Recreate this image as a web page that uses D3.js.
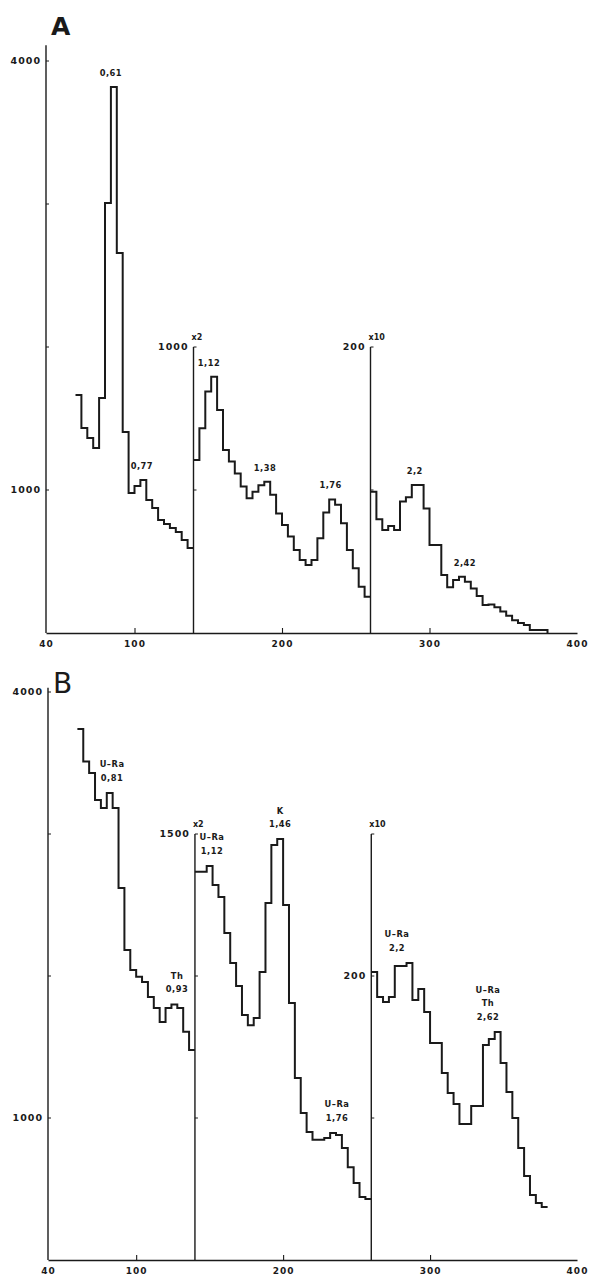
<!DOCTYPE html>
<html><head><meta charset="utf-8">
<script src="https://cdn.jsdelivr.net/npm/d3@7"></script>
<style>body{margin:0;background:#fff} svg{display:block}</style>
</head><body>
<svg id="chart" width="593" height="1276"></svg>
<script>
// ---------------- DATA ----------------
const xTickValues = [40, 100, 200, 300, 400];
const binWidth = 4;                 // channels per histogram step
const segmentStarts = [60, 140, 260];
const segmentGains = [1, 2, 10];     // x1, x2, x10 amplification
const gainLabels = ["", "x2", "x10"];

// Panel A counts (each segment in its own axis units)
const countsA1 = [1664, 1434, 1364, 1294, 1643, 3007, 3818, 2657, 1406, 979,
                  1028, 1070, 930, 874, 790, 762, 734, 706, 650, 594];
const countsA2 = [605, 716, 844, 896, 780, 640, 600, 558, 512, 471,
                  494, 517, 529, 483, 418, 378, 337, 290, 255, 238,
                  255, 331, 421, 467, 448, 384, 290, 226, 162, 127];
const countsA3 = [98.8, 79.5, 72, 74.8, 72, 92, 95, 103.5, 103.5, 87,
                  61.5, 61.5, 40.6, 32, 37, 39.4, 35.9, 31.2, 25.9, 19.5,
                  20, 18, 15, 12, 9, 7, 5.6, 2.1, 2.1, 2.1];

// Panel B counts
const countsB1 = [3740, 3510, 3430, 3239, 3183, 3289, 3183, 2620, 2183, 2042,
                  1995, 1958, 1852, 1775, 1676, 1775, 1800, 1775, 1608, 1479];
const countsB2 = [1367, 1367, 1387, 1320, 1278, 1151, 1046, 965, 863, 827,
                  852, 1014, 1257, 1461, 1482, 1250, 905, 641, 518, 451,
                  423, 423, 430, 447, 440, 394, 327, 271, 222, 215];
const countsB3 = [202.8, 185.2, 181.7, 185.2, 207, 207, 209.2, 183.1, 190.8, 174.6,
                  152.8, 152.8, 131.7, 117.6, 109.9, 95.8, 95.8, 108.5, 108.5, 151.4,
                  155.6, 160.6, 138.7, 118.3, 100, 78.9, 59.2, 45.8, 40.1, 37.3];

// vertical axes: tick values, labelled values, top value (own units)
const axisTicksA = [[1000, 2000, 3000, 4000], [500, 1000], [100, 200]];
const axisLabelsA = [[1000, 4000], [1000], [200]];
const axisTopA = [4110, 1000, 200];
const axisTicksB = [[1000, 2000, 3000, 4000], [500, 1000, 1500], [100, 200, 300]];
const axisLabelsB = [[1000, 4000], [1500], [200]];
const axisTopB = [4030, 1500, 300];

// peak annotations: channel and text lines
const peaksA = [
  {ch: 84, lines: ["0,61"]},
  {ch: 105, lines: ["0,77"]},
  {ch: 150.5, lines: ["1,12"]},
  {ch: 188.5, lines: ["1,38"]},
  {ch: 233, lines: ["1,76"]},
  {ch: 290, lines: ["2,2"]},
  {ch: 324, lines: ["2,42"]}
];
const peaksB = [
  {ch: 83.6, lines: ["U–Ra", "0,81"]},
  {ch: 127.8, lines: ["Th", "0,93"]},
  {ch: 151.6, lines: ["U–Ra", "1,12"]},
  {ch: 198, lines: ["K", "1,46"]},
  {ch: 236.7, lines: ["U–Ra", "1,76"]},
  {ch: 277.5, lines: ["U–Ra", "2,2"]},
  {ch: 339.4, lines: ["U–Ra", "Th", "2,62"]}
];

// ---------------- LAYOUT ----------------
const INK = "#1a1a1a";
const FONT = "'DejaVu Sans', sans-serif";
const panels = [
  {title: "A", titleX: 51, titleY: 35, titleSize: 25, titleWeight: "bold",
   baseline: 633, y4000: 61, xRange: [46, 577],
   counts: [countsA1, countsA2, countsA3],
   ticks: axisTicksA, labels: axisLabelsA, tops: axisTopA,
   peaks: peaksA, peakGap: 14, dropEnd: true},
  {title: "B", titleX: 53, titleY: 693, titleSize: 28, titleWeight: "normal",
   baseline: 1260, y4000: 692, xRange: [48, 577],
   counts: [countsB1, countsB2, countsB3],
   ticks: axisTicksB, labels: axisLabelsB, tops: axisTopB,
   peaks: peaksB, peakGap: 15, dropEnd: false}
];

const svg = d3.select("#chart");
svg.append("rect").attr("width", 593).attr("height", 1276).attr("fill", "#fff");

panels.forEach(p => {
  const g = svg.append("g");
  const x = d3.scaleLinear().domain([40, 400]).range(p.xRange);
  const yFor = gain => d3.scaleLinear().domain([0, 4000 / gain]).range([p.baseline, p.y4000]);

  // title
  g.append("text").attr("x", p.titleX).attr("y", p.titleY)
    .attr("font-family", FONT).attr("font-size", p.titleSize)
    .attr("font-weight", p.titleWeight).attr("fill", INK).text(p.title);

  // bottom axis
  const xAxis = d3.axisBottom(x).tickValues(xTickValues).tickSize(-5)
    .tickSizeOuter(0).tickPadding(8).tickFormat(d3.format("d"));
  const ax = g.append("g").attr("transform", `translate(0,${p.baseline})`).call(xAxis);
  ax.select(".domain").attr("stroke", INK).attr("stroke-width", 1.4);
  ax.selectAll(".tick line").attr("stroke", INK).attr("stroke-width", 1.1)
    .filter(d => d === 40 || d === 400).remove();
  ax.selectAll(".tick text").attr("font-family", FONT).attr("font-size", 9)
    .attr("font-weight", "bold").attr("letter-spacing", 1).attr("fill", INK);

  // vertical axes, one per segment
  segmentStarts.forEach((s, k) => {
    const gain = segmentGains[k];
    const y = yFor(gain);
    const xa = x(k === 0 ? 40 : s);
    g.append("line").attr("x1", xa).attr("x2", xa)
      .attr("y1", p.baseline).attr("y2", y(p.tops[k]))
      .attr("stroke", INK).attr("stroke-width", 1.4);
    p.ticks[k].forEach(t => {
      g.append("line").attr("x1", xa).attr("x2", xa + 3)
        .attr("y1", y(t)).attr("y2", y(t)).attr("stroke", INK).attr("stroke-width", 1);
    });
    p.labels[k].forEach(t => {
      g.append("text").attr("x", xa - 5).attr("y", y(t))
        .attr("dy", "0.35em").attr("text-anchor", "end")
        .attr("font-family", FONT).attr("font-size", 9.5).attr("font-weight", "bold")
        .attr("letter-spacing", 1).attr("fill", INK).text(d3.format("d")(t));
    });
    if (gainLabels[k]) {
      g.append("text").attr("x", xa - 2).attr("y", y(p.tops[k]) - 7)
        .attr("font-family", FONT).attr("font-size", 8).attr("font-weight", "bold")
        .attr("fill", INK).text(gainLabels[k]);
    }
  });

  // step histogram segments
  const segPoints = [];
  p.counts.forEach((vals, k) => {
    const s = segmentStarts[k];
    const y = yFor(segmentGains[k]);
    const pts = vals.map((v, i) => [s + i * binWidth, v]);
    const endCh = s + vals.length * binWidth;
    pts.push([endCh, vals[vals.length - 1]]);
    if (k === 2 && p.dropEnd) pts.push([endCh, 0]);
    vals.forEach((v, i) => segPoints.push({a: s + i * binWidth, b: s + (i + 1) * binWidth, py: y(v)}));
    const line = d3.line().x(d => x(d[0])).y(d => y(d[1])).curve(d3.curveStepAfter);
    g.append("path").attr("d", line(pts)).attr("fill", "none")
      .attr("stroke", INK).attr("stroke-width", 2).attr("stroke-linejoin", "miter");
  });

  // peak labels
  p.peaks.forEach(pk => {
    const near = segPoints.filter(b => b.b > pk.ch - 7 && b.a < pk.ch + 7);
    const top = d3.min(near, b => b.py);
    const n = pk.lines.length;
    pk.lines.forEach((t, i) => {
      g.append("text").attr("x", x(pk.ch))
        .attr("y", top - p.peakGap - (n - 1 - i) * 13.5)
        .attr("dy", "0.35em").attr("text-anchor", "middle")
        .attr("font-family", FONT).attr("font-size", 8.3)
        .attr("font-weight", p.title === "A" ? "bold" : 600)
        .attr("letter-spacing", 0.5).attr("fill", INK).text(t);
    });
  });
});
</script>
</body></html>
